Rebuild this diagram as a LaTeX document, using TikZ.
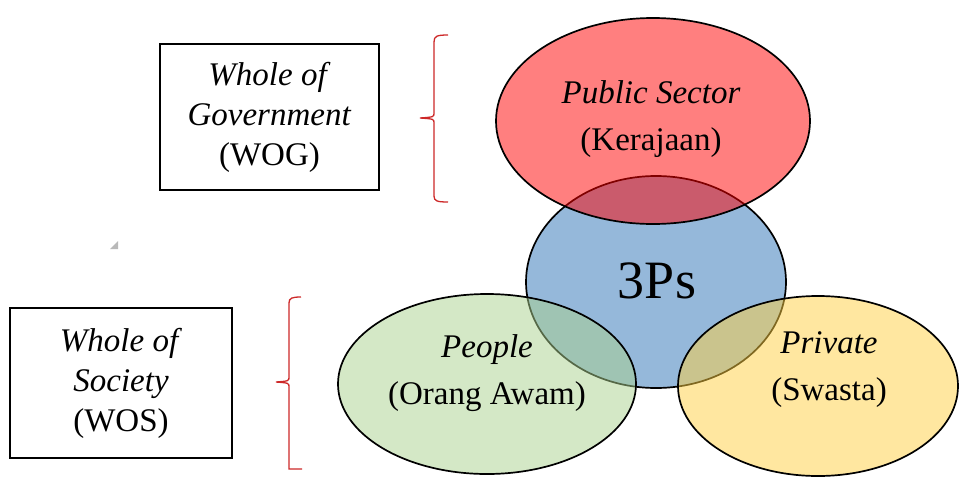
\documentclass[tikz,border=0pt]{standalone}
\usepackage{fontspec}
\setmainfont{Liberation Serif}
\usetikzlibrary{shapes.geometric}

\definecolor{pubred}{RGB}{255,0,0}
\definecolor{ppsblue}{RGB}{149,184,218}
\definecolor{pplgreen}{RGB}{170,209,142}
\definecolor{prvgold}{RGB}{255,208,66}
\definecolor{bracered}{RGB}{205,40,40}

\begin{document}
\begin{tikzpicture}[x=1pt,y=-1pt,
  circ/.style={ellipse,draw=black,line width=1.7pt,inner sep=0pt},
  txt/.style={font=\fontsize{33}{40}\selectfont,align=center,inner sep=0pt},
  frame/.style={draw=black,line width=1.7pt,inner sep=0pt},
  brc/.style={draw=bracered,line width=1.3pt}]
\useasboundingbox (0,0) rectangle (966,477);

% the four circles
\node[circ,fill=ppsblue,minimum width=260,minimum height=212] (core) at (656,282) {};
\node[circ,fill=pubred,fill opacity=.5,minimum width=314,minimum height=206] (pub) at (653,121) {};
\node[circ,fill=pplgreen,fill opacity=.5,minimum width=298,minimum height=180] (ppl) at (487,384) {};
\node[circ,fill=prvgold,fill opacity=.5,minimum width=280,minimum height=180] (prv) at (818,386) {};

\node[txt,font=\fontsize{54}{60}\selectfont] (coretxt) at (657,281) {3Ps};
\node[txt] (pubtxt) at (651,119) {\textit{Public Sector}\\[7pt](Kerajaan)};
\node[txt] (ppltxt) at (487,373) {\textit{People}\\[7pt](Orang Awam)};
\node[txt] (prvtxt) at (829,370) {\textit{Private}\\[7pt](Swasta)};

% boxes
\node[frame,minimum width=219,minimum height=146] (wog) at (269.5,117) {};
\node[txt] at (wog) {\textit{Whole of}\\\textit{Government}\\(WOG)};
\node[frame,minimum width=222,minimum height=150] (wos) at (121,383) {};
\node[txt] at (wos) {\textit{Whole of}\\\textit{Society}\\(WOS)};

% braces
\draw[brc] (448,35) .. controls (437,35) and (434,36) .. (434,42) -- (434,113)
  .. controls (434,117) .. (420,118) .. controls (434,119) .. (434,123)
  -- (434,196) .. controls (434,201) and (437,202) .. (448,202);
\draw[brc] (301,297) .. controls (292,297) and (289,298) .. (289,303) -- (289,377)
  .. controls (289,381) .. (276,382) .. controls (289,383) .. (289,387)
  -- (289,469) -- (302,469);

\fill[gray!55] (118,241) -- (118,249) -- (110,249) -- cycle;
\end{tikzpicture}
\end{document}
